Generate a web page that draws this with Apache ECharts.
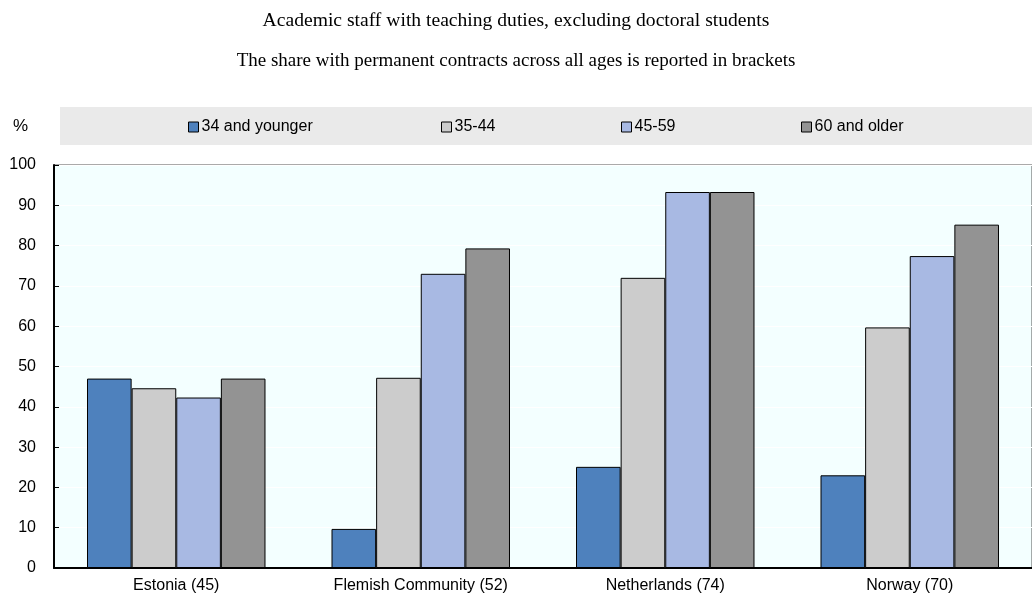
<!DOCTYPE html>
<html>
<head>
<meta charset="utf-8">
<script src="https://cdn.jsdelivr.net/npm/echarts@6/dist/echarts.min.js"></script>
<style>
  html, body { margin: 0; padding: 0; background: #fff; }
</style>
</head>
<body>
<div id="chart" style="width:1032px;height:596px;"></div>
<script>
// data
var categories = ['Estonia (45)', 'Flemish Community (52)', 'Netherlands (74)', 'Norway (70)'];
var seriesNames = ['34 and younger', '35-44', '45-59', '60 and older'];
var young = [47.0, 9.7, 25.1, 23.0];
var mid = [44.6, 47.2, 72.0, 59.7];
var older = [42.3, 73.0, 93.3, 77.4];
var oldest = [47.0, 79.3, 93.3, 85.2];
var yTicks = [0, 10, 20, 30, 40, 50, 60, 70, 80, 90, 100];

var colors = ['#4E81BD', '#CCCCCC', '#A8B9E3', '#939393'];
var font = "'Liberation Sans Narrow', 'Arial Narrow', 'Liberation Sans', Arial, sans-serif";
var serif = "'Liberation Serif', 'Times New Roman', serif";

var chartDom = document.getElementById('chart');
var myChart = echarts.init(chartDom);

function bar(name, data, color) {
    return {
        name: name,
        type: 'bar',
        data: data,
        barGap: '0%',
        barCategoryGap: '27%',
        itemStyle: { color: color, borderColor: '#000', borderWidth: 1 }
    };
}

var legendLefts = [188, 441, 621, 801];

var option = {
    animation: false,
    title: [
        {
            text: 'Academic staff with teaching duties, excluding doctoral students',
            left: 'center', top: 6,
            textStyle: { fontFamily: serif, fontSize: 19.6, fontWeight: 'normal', color: '#000' }
        },
        {
            text: 'The share with permanent contracts across all ages is reported in brackets',
            left: 'center', top: 47,
            textStyle: { fontFamily: serif, fontSize: 19, fontWeight: 'normal', color: '#000' }
        }
    ],
    graphic: [
        { type: 'rect', shape: { x: 60, y: 107, width: 972, height: 38 }, style: { fill: '#EAEAEA' }, z: -1 },
        { type: 'text', left: 13, top: 118, style: { text: '%', font: '17px ' + font, fill: '#000' } }
    ],
    legend: seriesNames.map(function (n, i) {
        return {
            data: [n],
            left: legendLefts[i],
            top: 119,
            icon: 'rect',
            itemWidth: 10,
            itemHeight: 10,
            itemGap: 4,
            padding: 0,
            selectedMode: false,
            itemStyle: { borderColor: '#000', borderWidth: 1 },
            textStyle: { fontFamily: font, fontSize: 16, color: '#000', padding: [0, 0, 0, -2] }
        };
    }),
    grid: {
        left: 54, right: -10, top: 165, bottom: 28,
        show: true,
        backgroundColor: '#F3FFFF',
        borderColor: '#555',
        borderWidth: 1
    },
    xAxis: {
        type: 'category',
        data: categories,
        axisLine: { lineStyle: { color: '#000', width: 2 } },
        axisTick: { inside: true, length: 5, lineStyle: { color: '#000' } },
        axisLabel: { fontFamily: font, fontSize: 16, color: '#000', margin: 10 }
    },
    yAxis: {
        type: 'value',
        min: yTicks[0],
        max: yTicks[yTicks.length - 1],
        interval: 10,
        axisLine: { show: true, lineStyle: { color: '#000', width: 2 } },
        axisTick: { show: true, inside: true, length: 5, lineStyle: { color: '#000' } },
        axisLabel: { fontFamily: font, fontSize: 16, color: '#000', margin: 18 },
        splitLine: { lineStyle: { color: '#FFFFFF', width: 1 } }
    },
    series: [
        bar(seriesNames[0], young, colors[0]),
        bar(seriesNames[1], mid, colors[1]),
        bar(seriesNames[2], older, colors[2]),
        bar(seriesNames[3], oldest, colors[3])
    ]
};

option && myChart.setOption(option);
</script>
</body>
</html>
